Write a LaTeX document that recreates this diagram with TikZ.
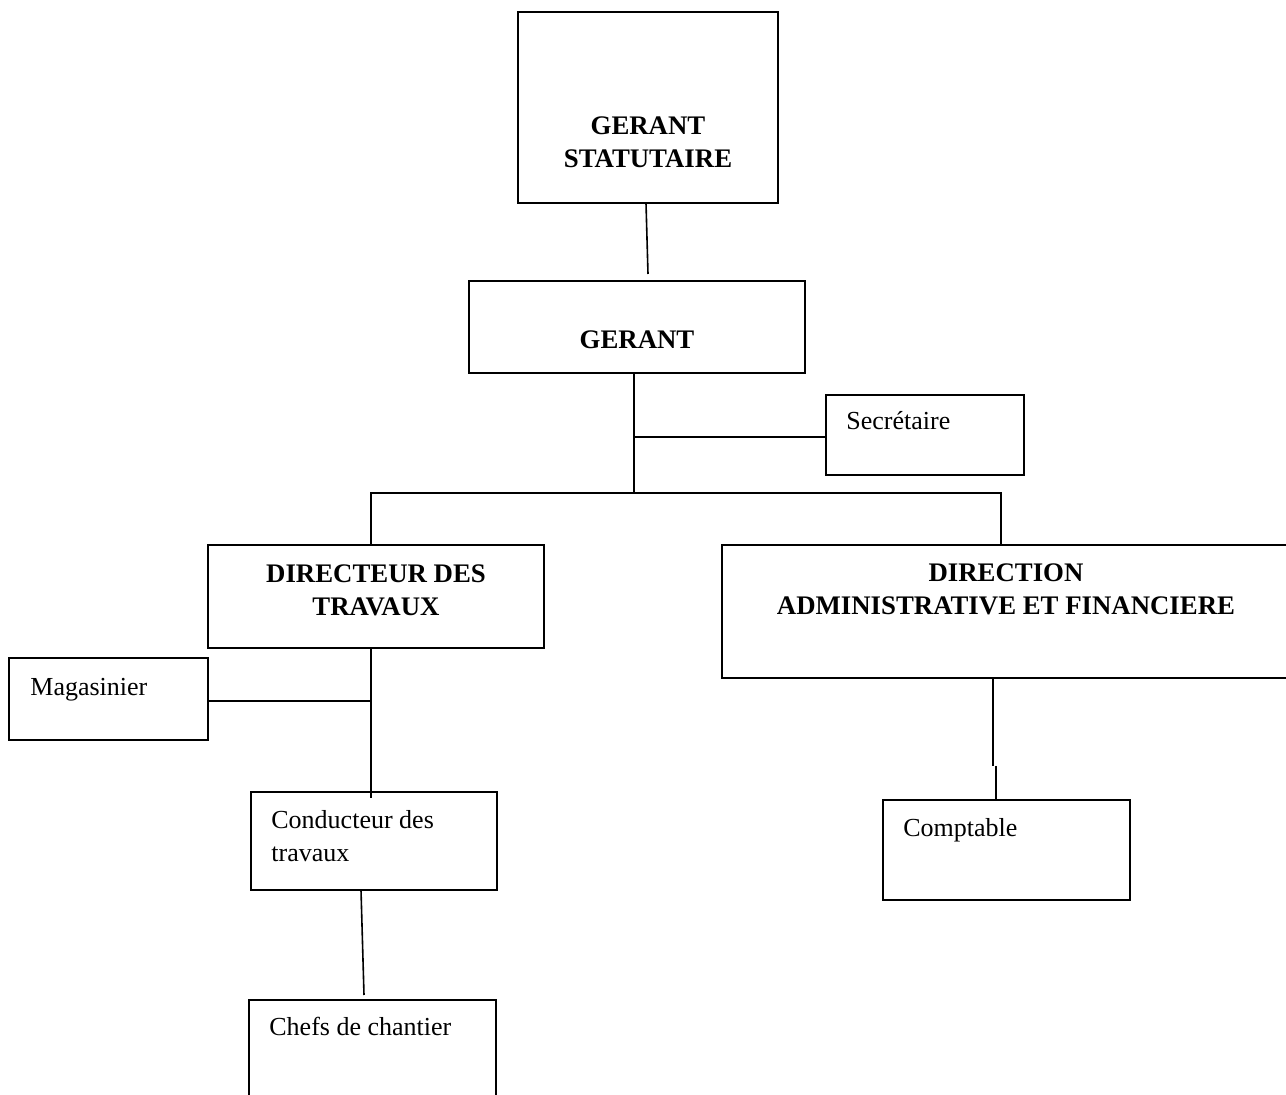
\documentclass[tikz,border=0pt]{standalone}
\usepackage{fontspec}
\setmainfont{Liberation Serif}
\begin{document}
\begin{tikzpicture}[x=0.5pt,y=-0.5pt,
  box/.style={draw, line width=1pt, rectangle, inner sep=0pt, outer sep=0pt},
  txt/.style={inner sep=0pt, font=\fontsize{13}{16.5}\selectfont},
  btxt/.style={inner sep=0pt, font=\fontsize{13.4}{16.5}\selectfont\bfseries, align=center},
  conn/.style={line width=0.8pt}]
\clip (0,0) rectangle (1286,1095);
\useasboundingbox (0,0) rectangle (1286,1095);
% boxes
\node[box, minimum width=130pt, minimum height=95.5pt] (gs) at (648,107.5) {};
\node[box, minimum width=168pt, minimum height=46pt] (ger) at (637,327) {};
\node[box, minimum width=99pt, minimum height=40pt] (sec) at (925,435) {};
\node[box, minimum width=168pt, minimum height=51.5pt] (dt) at (376,596.5) {};
\node[box, minimum width=283pt, minimum height=66.5pt] (daf) at (1005,611.5) {};
\node[box, minimum width=99.5pt, minimum height=41pt] (mag) at (108.5,699) {};
\node[box, minimum width=123pt, minimum height=49pt] (cond) at (374,841) {};
\node[box, minimum width=123.5pt, minimum height=50pt] (comp) at (1006.5,850) {};
\node[box, minimum width=123.5pt, minimum height=60pt] (chef) at (372.5,1060) {};
% texts
\node[btxt] (gs-t) at (648,142) {GERANT\\STATUTAIRE};
\node[btxt] (ger-t) at (637,340) {GERANT};
\node[txt, anchor=base west] (sec-t) at (846,430) {Secrétaire};
\node[btxt] (dt-t) at (376,590) {DIRECTEUR DES\\TRAVAUX};
\node[btxt] (daf-t) at (1006,589) {DIRECTION\\ADMINISTRATIVE ET FINANCIERE};
\node[txt, anchor=base west] (mag-t) at (30,696) {Magasinier};
\node[txt, anchor=west, align=left] (cond-t) at (271,836.5) {Conducteur des\\travaux};
\node[txt, anchor=base west] (comp-t) at (903,837) {Comptable};
\node[txt, anchor=base west] (chef-t) at (269,1036) {Chefs de chantier};
% junction coordinates
\coordinate (c1) at (648,274);
\coordinate (j0) at (634,437);
\coordinate (j1) at (634,493);
\coordinate (h1) at (371,493);
\coordinate (h2) at (1001,493);
\coordinate (j2) at (371,701);
\coordinate (c2) at (364,995);
\coordinate (j3) at (993,766);
\coordinate (j4) at (996,766);
% connectors
\draw[conn] ([xshift=-1pt]gs.south) -- (c1);
\draw[conn] (j1 |- ger.south) -- (j1);
\draw[conn] (j0) -- (j0 -| sec.west);
\draw[conn] (dt.north -| h1) -- (h1) -- (h2) -- (daf.north -| h2);
\draw[conn] (dt.south -| j2) -- ([yshift=-3pt]cond.north -| j2);
\draw[conn] (mag.east |- j2) -- (j2);
\draw[conn] ([xshift=-6.5pt]cond.south) -- (c2);
\draw[conn] (daf.south -| j3) -- (j3);
\draw[conn] (j4) -- (comp.north -| j4);
\end{tikzpicture}
\end{document}
